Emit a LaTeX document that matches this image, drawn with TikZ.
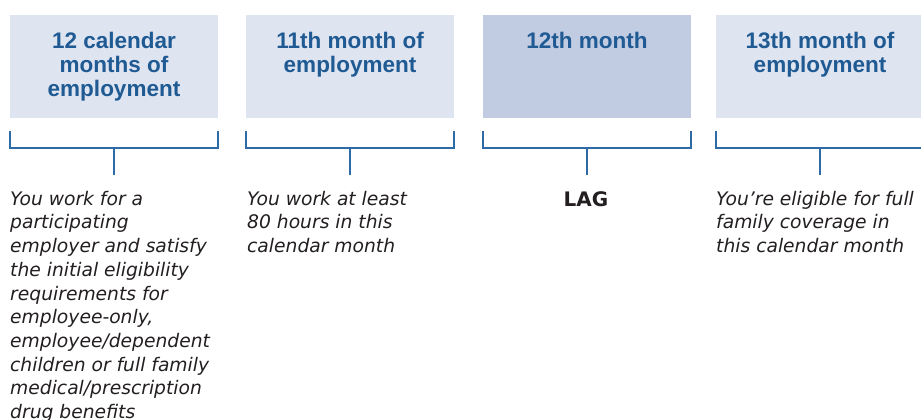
\documentclass[tikz,border=0pt]{standalone}
\usepackage{fontspec}
\setmainfont{DejaVu Sans}
\newfontfamily\headfont{Liberation Sans}

\definecolor{boxlight}{HTML}{DFE4F1}
\definecolor{boxdark}{HTML}{C1CCE3}
\definecolor{headblue}{HTML}{1F5A93}
\definecolor{linkblue}{HTML}{2E6AA6}
\definecolor{bodygray}{HTML}{231F20}

\tikzset{
	monthbox/.style={rectangle, fill=boxlight, minimum width=208pt, minimum height=103pt, inner sep=0pt, outer sep=0pt},
	headtext/.style={anchor=north, inner sep=0pt, align=center, text=headblue, font=\headfont\bfseries\fontsize{22.5}{24}\selectfont},
	bodytext/.style={anchor=north west, inner sep=0pt, align=left, text=bodygray, font=\itshape\fontsize{18.7}{23.7}\selectfont},
	bracket/.style={draw=linkblue, line width=1.3pt}
}

\begin{document}
\begin{tikzpicture}[x=1pt, y=-1pt]
		\useasboundingbox (0, 0) rectangle (921, 420);
		
		% month boxes
		\node[monthbox] (m1) at (114, 66.5) {};
		\node[monthbox] (m2) at (350, 66.5) {};
		\node[monthbox, fill=boxdark] (m3) at (587, 66.5) {};
		\node[monthbox] (m4) at (820, 66.5) {};
		
		\node[headtext] (h1) at (114, 31.6) {12 calendar\\months of\\employment};
		\node[headtext] (h2) at (350, 31.6) {11th month of\\employment};
		\node[headtext] (h3) at (587, 31.6) {12th month};
		\node[headtext] (h4) at (820, 31.6) {13th month of\\employment};
		
		% brackets under the boxes
		\draw[bracket] ([yshift=-13pt]m1.south west) -- ++(0, 17) -| ([yshift=-13pt]m1.south east);
		\draw[bracket] ([yshift=-13pt]m2.south west) -- ++(0, 17) -| ([yshift=-13pt]m2.south east);
		\draw[bracket] ([yshift=-13pt]m3.south west) -- ++(0, 17) -| ([yshift=-13pt]m3.south east);
		\draw[bracket] ([yshift=-13pt]m4.south west) -- ++(0, 17) -| ([yshift=-13pt]m4.south east);
		
		\draw[bracket] ([yshift=-30pt]m1.south) -- ++(0, 27);
		\draw[bracket] ([yshift=-30pt]m2.south) -- ++(0, 27);
		\draw[bracket] ([yshift=-30pt]m3.south) -- ++(0, 27);
		\draw[bracket] ([yshift=-30pt]m4.south) -- ++(0, 27);
		
		% what happens in each month
		\node[bodytext] (d1) at (10, 190.8) {You work for a\\participating\\employer and satisfy\\the initial eligibility\\requirements for\\employee-only,\\employee/dependent\\children or full family\\medical/prescription\\drug benefits};
		\node[bodytext] (d2) at (247, 190.8) {You work at least\\80 hours in this\\calendar month};
		\node[anchor=north, inner sep=0pt, text=bodygray, font=\bfseries\fontsize{20}{24}\selectfont] (d3) at (586, 191.5) {LAG};
		\node[bodytext] (d4) at (716, 190.8) {You’re eligible for full\\family coverage in\\this calendar month};
	\end{tikzpicture}
\end{document}
